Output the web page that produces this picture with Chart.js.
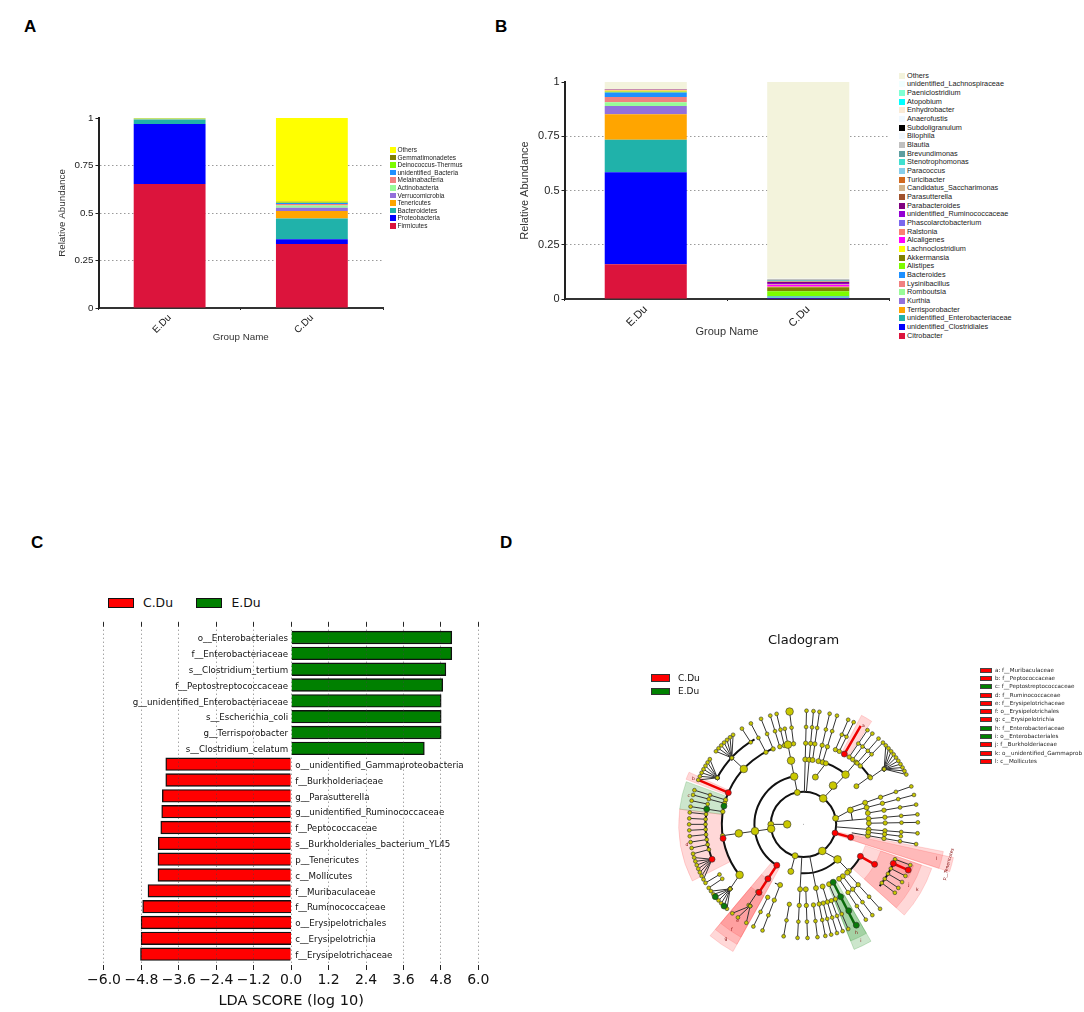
<!DOCTYPE html>
<html>
<head>
<meta charset="utf-8">
<title>Gut microbiota composition</title>
<script src="https://cdn.jsdelivr.net/npm/chart.js@4"></script>
<style>
  html, body { margin: 0; padding: 0; background: #fff; }
  body { position: relative; width: 1084px; height: 1012px; overflow: hidden; font-family: "Liberation Sans", sans-serif; }
  canvas { position: absolute; }
  .tag { position: absolute; font: bold 17px "Liberation Sans", sans-serif; color: #000; line-height: 17px; }
  .legend { position: absolute; color: #222; white-space: nowrap; }
  .legend div { position: absolute; left: 0; white-space: nowrap; }
  .legend i { position: absolute; left: 0; display: block; box-sizing: border-box; }
  .legend span { position: absolute; top: 0; }
</style>
</head>
<body>
<div class="tag" style="left:24px;top:18px">A</div>
<div class="tag" style="left:495px;top:18px">B</div>
<div class="tag" style="left:31px;top:534px">C</div>
<div class="tag" style="left:500px;top:534px">D</div>

<canvas id="chartA" width="400" height="250" style="left:0;top:100px"></canvas>
<canvas id="chartB" width="415" height="290" style="left:480px;top:60px"></canvas>
<canvas id="chartC" width="420" height="402" style="left:80px;top:610px"></canvas>
<canvas id="chartD" width="444" height="340" style="left:640px;top:630px"></canvas>
<div id="cladoTitle" style="position:absolute;left:768px;top:632px;font:13px 'DejaVu Sans';color:#111">Cladogram</div>

<div id="legendA" class="legend"></div>
<div id="legendB" class="legend"></div>
<div id="legendC" class="legend"></div>
<div id="legendD" class="legend"></div>
<div id="legendD2" class="legend"></div>

<script>
const groups = ["E.Du", "C.Du"];
const abundanceTicks = [0, 0.25, 0.5, 0.75, 1];

// panel A, phylum level, bottom of the stack first
const phylumNames = ["Firmicutes", "Proteobacteria", "Bacteroidetes", "Tenericutes", "Verrucomicrobia", "Actinobacteria", "Melainabacteria", "unidentified_Bacteria", "Deinococcus-Thermus", "Gemmatimonadetes", "Others"];
const phylumColors = ["#DC143C", "#0000FF", "#20B2AA", "#FFA500", "#9370DB", "#98FB98", "#F08080", "#1E90FF", "#7CFC00", "#808000", "#FFFF00"];
const phylumEDu = [0.652, 0.316, 0.024, 0.001, 0.001, 0.001, 0.000, 0.001, 0.000, 0.000, 0.004];
const phylumCDu = [0.337, 0.025, 0.109, 0.039, 0.017, 0.013, 0.008, 0.005, 0.002, 0.004, 0.441];

// panel B, genus level, bottom of the stack first
const genusNames = ["Citrobacter", "unidentified_Clostridiales", "unidentified_Enterobacteriaceae", "Terrisporobacter", "Kurthia", "Romboutsia", "Lysinibacillus", "Bacteroides", "Alistipes", "Akkermansia", "Lachnoclostridium", "Alcaligenes", "Ralstonia", "Phascolarctobacterium", "unidentified_Ruminococcaceae", "Parabacteroides", "Parasutterella", "Candidatus_Saccharimonas", "Turicibacter", "Paracoccus", "Stenotrophomonas", "Brevundimonas", "Blautia", "Bilophila", "Subdoligranulum", "Anaerofustis", "Enhydrobacter", "Atopobium", "Paeniclostridium", "unidentified_Lachnospiraceae", "Others"];
const genusColors = ["#DC143C", "#0000FF", "#20B2AA", "#FFA500", "#9370DB", "#98FB98", "#F08080", "#1E90FF", "#7CFC00", "#808000", "#FFFF00", "#FF00FF", "#FA8072", "#7B68EE", "#9400D3", "#800080", "#A0522D", "#D2B48C", "#D2691E", "#87CEEB", "#40E0D0", "#5F9EA0", "#C0C0C0", "#F0F8FF", "#000000", "#F0F8FF", "#FAEBD7", "#00FFFF", "#7FFFD4", "#F0FFFF", "#F3F3DC"];
const genusEDu = [0.160, 0.424, 0.150, 0.117, 0.038, 0.018, 0.024, 0.021, 0.003, 0.001, 0.005, 0.001, 0.002, 0.001, 0.001, 0.001, 0.001, 0, 0, 0, 0, 0, 0, 0, 0, 0, 0, 0, 0, 0, 0.032];
const genusCDu = [0.001, 0.004, 0.002, 0, 0, 0.001, 0, 0.003, 0.025, 0.018, 0.002, 0.008, 0.003, 0.001, 0.006, 0.004, 0.001, 0.002, 0.001, 0.001, 0.001, 0.004, 0.004, 0.001, 0, 0, 0, 0, 0, 0, 0.907];

// panel C, LDA scores
const eDuTaxa = ["o__Enterobacteriales", "f__Enterobacteriaceae", "s__Clostridium_tertium", "f__Peptostreptococcaceae", "g__unidentified_Enterobacteriaceae", "s__Escherichia_coli", "g__Terrisporobacter", "s__Clostridium_celatum"];
const eDuScores = [5.15, 5.15, 4.96, 4.86, 4.81, 4.81, 4.81, 4.27];
const cDuTaxa = ["o__unidentified_Gammaproteobacteria", "f__Burkholderiaceae", "g__Parasutterella", "g__unidentified_Ruminococcaceae", "f__Peptococcaceae", "s__Burkholderiales_bacterium_YL45", "p__Tenericutes", "c__Mollicutes", "f__Muribaculaceae", "f__Ruminococcaceae", "o__Erysipelotrichales", "c__Erysipelotrichia", "f__Erysipelotrichaceae"];
const cDuScores = [-4.02, -4.02, -4.13, -4.15, -4.18, -4.26, -4.27, -4.27, -4.59, -4.76, -4.81, -4.81, -4.83];
const ldaTicks = [-6, -4.8, -3.6, -2.4, -1.2, 0, 1.2, 2.4, 3.6, 4.8, 6];

// panel D, cladogram in polar form: degrees clockwise from north, radius in tree levels of 50
const cladoCenter = [487, 585];
// [angle, from radius, to radius, optional end angle]
const branches = [
  [-90, 100, 50], [-98, 100, 250], [-11, 100, 150], [-11, 150, 300], [-7, 250, 350],
  [1.5, 100, 350], [5, 100, 350], [8, 200, 350], [13.2, 200, 350], [17, 200, 350], [14, 150, 200, 20],
  [37, 100, 200, 40], [40, 200, 250], [54, 200, 250], [23, 250, 350], [26, 250, 350], [34, 250, 350], [37, 250, 350], [41, 250, 350], [44, 250, 350], [55, 250, 300],
  [55.4, 300, 350, 46], [55.4, 300, 350, 48], [55.4, 300, 350, 50], [55.4, 300, 350, 52], [55.4, 300, 350, 54], [55.4, 300, 350, 56], [55.4, 300, 350, 58], [55.4, 300, 350, 60], [55.4, 300, 350, 62], [55.4, 300, 350, 64],
  [79, 100, 150, 73], [70.5, 150, 350], [75, 150, 350], [80, 200, 350], [85, 100, 350], [89, 200, 350], [94.5, 100, 350], [100, 150, 350], [97, 200, 300],
  [145, 100, 150, 136], [136, 150, 200], [138, 200, 350], [143, 200, 350], [147, 200, 350], [157, 200, 350], [160, 250, 350], [163, 200, 350], [166, 250, 350], [169, 100, 350], [173, 250, 350], [178, 200, 350],
  [-177, 100, 350], [-170, 250, 350], [-165, 100, 150], [-159, 200, 350], [-154, 250, 350],
  [-146, 250, 300], [-147, 300, 350, -150], [-147, 300, 350, -145], [-147, 300, 350, -141.5],
  [-128.5, 250, 300, -131.5], [-131.5, 300, 350, -126], [-131.5, 300, 350, -128], [-131.5, 300, 350, -130], [-131.5, 300, 350, -132], [-131.5, 300, 350, -134], [-131.5, 300, 350, -136], [-131.5, 300, 350, -138],
  [-121, 300, 350], [-124, 300, 350],
  [-111, 300, 350, -107], [-111, 300, 350, -109], [-111, 300, 350, -111], [-111, 300, 350, -113], [-111, 300, 350, -115], [-111, 300, 350, -117], [-111, 300, 350, -119],
  [-84, 300, 350], [-87, 300, 350], [-90, 300, 350], [-93, 300, 350], [-96, 300, 350], [-99, 300, 350], [-102, 300, 350], [-105, 300, 350],
  [-72.5, 250, 350], [-75, 250, 350], [-78, 300, 350], [-81, 250, 350],
  [-61.5, 300, 350, -55], [-61.5, 300, 350, -57], [-61.5, 300, 350, -59], [-61.5, 300, 350, -61], [-61.5, 300, 350, -63], [-61.5, 300, 350, -65], [-61.5, 300, 350, -67],
  [-47, 250, 300], [-47, 300, 350, -38], [-47, 300, 350, -40], [-47, 300, 350, -42], [-47, 300, 350, -44], [-47, 300, 350, -46], [-47, 300, 350, -48], [-47, 300, 350, -50],
  [-32.6, 300, 350], [-27.4, 250, 350], [-21.8, 250, 350], [-16.9, 250, 350], [-13.6, 250, 350],
  [117, 300, 350], [120.5, 300, 350], [124, 300, 350], [127, 300, 350], [111, 300, 350]
];
const redBranches = [[105.5, 100, 150], [119.5, 200, 250], [113.7, 300, 350], [-147, 150, 250], [30, 250, 350], [-67, 250, 350]];
const greenBranches = [[153, 200, 350]];
const redNodes = [[105.5, 100], [105.5, 150], [119.5, 200], [119.5, 250], [113.7, 300], [113.7, 350], [30, 250], [-67, 250], [-100, 250], [-111, 300], [-147, 150], [-147, 200], [-147, 250]];
const greenNodes = [[153, 200], [153, 250], [152.5, 300], [152.5, 350], [-77, 250], [-81, 300], [-136, 350], [-129.5, 350]];
const largeNodes = [[-90, 50], [-98, 100], [-98, 150], [-98, 200], [-11, 150], [-11, 200], [-11, 250], [-7, 350], [40, 200], [37, 150], [37, 100], [145, 100], [136, 150], [-128.5, 250], [-47, 250]];
// [from angle, to angle, radius]
const thickArcs = [[0, 360, 100], [-147, -11, 150], [14, 40, 200], [40, 54, 250], [136, 183, 150], [119.5, 139, 200], [-128.5, -23, 250], [-111, -81, 300], [-62, -30, 300], [111, 129, 300]];
const thinArcs = [[70, 85, 150], [73, 80, 200], [85, 100, 200], [97, 100, 250], [23, 26, 300], [34, 44, 300], [157, 163, 250], [138, 147, 250], [-159, -154, 200]];
// [from angle, to angle, inner radius, outer radius, fill]
const wedges = [
  [28, 33.5, 250, 378, "r"], [-69, -65.5, 250, 385, "r"], [-83, -70, 250, 382, "g"], [-117, -83, 250, 382, "r"],
  [-151, -140, 150, 445, "r"], [-151, -140, 200, 420, "r"], [-151, -140, 250, 395, "r"],
  [150, 158, 200, 413, "g"], [150, 158, 250, 385, "g"],
  [109, 132, 200, 415, "r"], [109, 132, 250, 382, "r"], [110.5, 117, 300, 360, "r"],
  [101, 108, 150, 436, "r"], [102.5, 108, 100, 470, "r"]
];
const wedgeLetters = [["a", 31, 355], ["b", -67.5, 365], ["c", -76, 362], ["d", -100, 362], ["e", -146, 360], ["f", -146, 392], ["g", -146, 425], ["h", 154, 370], ["i", 154, 400], ["j", 120, 372], ["k", 120, 402], ["l", 104.5, 420]];
const cladoLegendLeft = [["C.Du", "#ff0000"], ["E.Du", "#008000"]];
const cladoLegendRight = [
  ["a: f__Muribaculaceae", "r"], ["b: f__Peptococcaceae", "r"], ["c: f__Peptostreptococcaceae", "g"], ["d: f__Ruminococcaceae", "r"],
  ["e: f__Erysipelotrichaceae", "r"], ["f: o__Erysipelotrichales", "r"], ["g: c__Erysipelotrichia", "r"], ["h: f__Enterobacteriaceae", "g"],
  ["i: o__Enterobacteriales", "g"], ["j: f__Burkholderiaceae", "r"], ["k: o__unidentified_Gammaprob", "r"], ["l: c__Mollicutes", "r"]
];

function stackDatasets(names, colors, first, second) {
  return names.map((name, i) => ({ label: name, data: [first[i], second[i]], backgroundColor: colors[i], borderWidth: 0 }));
}

// writes the series names of a chart as a html list, the same way as the chart.js html legend sample
function writeLegend(id, left, top, rowHeight, boxSize, fontSize, names, colors) {
  const box = document.getElementById(id);
  box.style.left = left + "px";
  box.style.top = top + "px";
  box.style.font = fontSize + "px 'Liberation Sans', sans-serif";
  names.forEach((name, i) => {
    const row = document.createElement("div");
    row.style.top = (i * rowHeight) + "px";
    row.innerHTML = `<i style="width:${boxSize}px;height:${boxSize}px;top:0;background:${colors[i]}"></i>` +
      `<span style="left:${boxSize + 2}px;line-height:${boxSize}px">${name}</span>`;
    box.appendChild(row);
  });
}

function stackOptions(cfg) {
  return {
    responsive: false,
    animation: false,
    layout: { padding: cfg.padding },
    plugins: { legend: { display: false }, tooltip: { enabled: false } },
    datasets: { bar: { barPercentage: 0.505, categoryPercentage: 1 } },
    scales: {
      x: {
        stacked: true,
        grid: { offset: true, drawOnChartArea: false, tickLength: 2, tickColor: "#222" },
        border: { color: "#333", width: 2 },
        ticks: { minRotation: 45, maxRotation: 45, color: "#222", padding: 2, font: { family: "Liberation Sans", size: cfg.font } },
        title: { display: true, text: "Group Name", color: "#333", padding: 0, font: { family: "Liberation Sans", size: cfg.font } },
        afterFit: s => { s.height = cfg.xHeight; }
      },
      y: {
        stacked: true,
        min: 0,
        max: 1,
        afterBuildTicks: s => { s.ticks = abundanceTicks.map(v => ({ value: v })); },
        grid: {
          color: c => (c.tick.value === 0 || c.tick.value === 1) ? "transparent" : "#9a9a9a",
          tickColor: "#222",
          tickLength: 3
        },
        border: { color: "#222", width: 2, dash: [1.5, 2.5] },
        ticks: { color: "#222", padding: 2, callback: v => String(v), font: { family: "Liberation Sans", size: cfg.font } },
        title: { display: true, text: "Relative Abundance", color: "#333", padding: 0, font: { family: "Liberation Sans", size: cfg.font } },
        afterFit: s => { s.width = cfg.yWidth; }
      }
    }
  };
}

new Chart(document.getElementById("chartA"), {
  type: "bar",
  data: { labels: groups, datasets: stackDatasets(phylumNames, phylumColors, phylumEDu, phylumCDu) },
  options: stackOptions({ padding: { left: 56, top: 18, right: 17, bottom: 7 }, font: 9.8, xHeight: 35, yWidth: 42.5 })
});

new Chart(document.getElementById("chartB"), {
  type: "bar",
  data: { labels: groups, datasets: stackDatasets(genusNames, genusColors, genusEDu, genusCDu) },
  options: stackOptions({ padding: { left: 38.5, top: 22, right: 5.5, bottom: 11.5 }, font: 11, xHeight: 39.5, yWidth: 46 })
});

writeLegend("legendA", 390, 147, 7.6, 5.5, 6.5, phylumNames.slice().reverse(), phylumColors.slice().reverse());
writeLegend("legendB", 899, 72.5, 8.67, 6, 7.3, genusNames.slice().reverse(), genusColors.slice().reverse());

// taxon names beside the zero line
const taxonLabels = {
  id: "taxonLabels",
  afterDatasetsDraw(chart) {
    const { ctx, scales } = chart;
    ctx.save();
    ctx.font = "8.7px 'DejaVu Sans'";
    ctx.fillStyle = "#111";
    ctx.textBaseline = "middle";
    const zero = scales.x.getPixelForValue(0);
    ctx.textAlign = "right";
    eDuTaxa.forEach((name, i) => ctx.fillText(name, zero - 3, scales.y.getPixelForValue(i) + 1.5));
    ctx.textAlign = "left";
    cDuTaxa.forEach((name, i) => ctx.fillText(name, zero + 4, scales.y.getPixelForValue(i + eDuTaxa.length) + 1.5));
    ctx.restore();
  }
};

const ldaAxisTicks = s => { s.ticks = ldaTicks.map(v => ({ value: v })); };

new Chart(document.getElementById("chartC"), {
  type: "bar",
  data: {
    datasets: [
      { label: "C.Du", data: cDuScores.map((v, i) => ({ x: v, y: i + eDuScores.length })), backgroundColor: "#ff0000", borderColor: "#111", borderWidth: 1.4, grouped: false, barThickness: 12.7 },
      { label: "E.Du", data: eDuScores.map((v, i) => ({ x: v, y: i })), backgroundColor: "#008000", borderColor: "#111", borderWidth: 1.4, grouped: false, barThickness: 12.7 }
    ]
  },
  plugins: [taxonLabels],
  options: {
    indexAxis: "y",
    responsive: false,
    animation: false,
    layout: { padding: { left: 23.7, right: 21.7, top: 11.7, bottom: 0 } },
    plugins: { legend: { display: false }, tooltip: { enabled: false } },
    scales: {
      y: { type: "linear", offset: false, reverse: true, min: -1, max: 21, display: false },
      x: {
        min: -6,
        max: 6,
        afterBuildTicks: ldaAxisTicks,
        grid: { color: "rgba(70,70,70,0.7)", z: 1, tickLength: -5, tickColor: "#222" },
        border: { display: false, dash: [1, 3] },
        ticks: { color: "#111", padding: 7, maxRotation: 0, autoSkip: false, callback: v => v.toFixed(1).replace("-", "\u2212"), font: { family: "DejaVu Sans", size: 14 } },
        title: { display: true, text: "LDA SCORE (log 10)", color: "#111", padding: 2, font: { family: "DejaVu Sans", size: 14.6 } },
        afterFit: s => { s.height = 42; }
      },
      xTop: {
        position: "top",
        min: -6,
        max: 6,
        afterBuildTicks: ldaAxisTicks,
        grid: { drawOnChartArea: false, tickLength: -5, tickColor: "#222" },
        border: { display: false },
        ticks: { display: false },
        afterFit: s => { s.height = 0; }
      }
    }
  }
});

// legend swatches of panel C
[["C.Du", 108.3, "#ff0000", 143], ["E.Du", 196, "#008000", 231.5]].forEach(([name, x, color, textX]) => {
  const box = document.getElementById("legendC");
  box.style.left = "0"; box.style.top = "0";
  box.style.font = "12.4px 'DejaVu Sans'";
  box.insertAdjacentHTML("beforeend",
    `<i style="left:${x}px;top:598px;width:26px;height:9.5px;background:${color};border:1px solid #111"></i>` +
    `<span style="left:${textX}px;top:595px;color:#111">${name}</span>`);
});

// legends of panel D
function writeCladoLegends() {
  const left = document.getElementById("legendD");
  left.style.left = "0"; left.style.top = "0";
  left.style.font = "9px 'DejaVu Sans'";
  cladoLegendLeft.forEach(([name, color], i) => {
    const y = 674 + i * 13.6;
    left.insertAdjacentHTML("beforeend",
      `<i style="left:651px;top:${y}px;width:19px;height:7.5px;background:${color};border:1px solid #333"></i>` +
      `<span style="left:678px;top:${y - 1.5}px;color:#111">${name}</span>`);
  });
  const right = document.getElementById("legendD2");
  right.style.left = "0"; right.style.top = "0";
  right.style.font = "5.6px 'DejaVu Sans'";
  cladoLegendRight.forEach(([name, code], i) => {
    const y = 667.6 + i * 8.3;
    const color = code === "r" ? "#ff0000" : "#008000";
    right.insertAdjacentHTML("beforeend",
      `<i style="left:980px;top:${y}px;width:11.5px;height:5px;background:${color};border:1px solid #444"></i>` +
      `<span style="left:995px;top:${y - 1}px;color:#222">${name}</span>`);
  });
}
writeCladoLegends();

function polar(angle, r) {
  const rad = angle * Math.PI / 180;
  return { x: cladoCenter[0] + r * Math.sin(rad), y: cladoCenter[1] - r * Math.cos(rad), r };
}

function branchPath(list) {
  const pts = [];
  list.forEach(([a, r1, r2, a2]) => {
    pts.push(polar(a, r1), polar(a2 === undefined ? a : a2, r2), { x: NaN, y: NaN });
  });
  return pts;
}

// a node at each level of a branch, leaving out the inner levels shared with the rings
function branchNodes(list) {
  const pts = [];
  list.forEach(([a, r1, r2, a2]) => {
    const lo = Math.min(r1, r2), hi = Math.max(r1, r2);
    for (let r = lo; r <= hi; r += 50) {
      if (r <= 150 && hi > 200) continue;
      const t = (r - r1) / (r2 - r1);
      pts.push(polar(a + ((a2 === undefined ? a : a2) - a) * t, r));
    }
  });
  return pts;
}

const nodeRadius = c => {
  const r = c.raw.r;
  if (r <= 150) return 3;
  if (r <= 200) return 2.5;
  if (r <= 250) return 2.2;
  return 1.9;
};

// shaded clades, rings and letters sit behind the branches, placed through the chart scales
const cladoBackdrop = {
  id: "cladoBackdrop",
  beforeDatasetsDraw(chart) {
    const { ctx, scales } = chart;
    const cx = scales.x.getPixelForValue(cladoCenter[0]);
    const cy = scales.y.getPixelForValue(cladoCenter[1]);
    const px = r => scales.x.getPixelForValue(cladoCenter[0] + r) - cx;
    const toRad = a => (a - 90) * Math.PI / 180;
    ctx.save();
    wedges.forEach(([a1, a2, r1, r2, code]) => {
      ctx.beginPath();
      ctx.arc(cx, cy, px(r2), toRad(a1), toRad(a2));
      ctx.arc(cx, cy, px(r1), toRad(a2), toRad(a1), true);
      ctx.closePath();
      ctx.fillStyle = code === "r" ? "rgba(255,60,60,0.2)" : "rgba(0,128,0,0.2)";
      ctx.strokeStyle = code === "r" ? "rgba(255,60,60,0.3)" : "rgba(0,128,0,0.3)";
      ctx.lineWidth = 0.6;
      ctx.fill();
      ctx.stroke();
    });
    ctx.strokeStyle = "#111";
    ctx.lineWidth = 2;
    thickArcs.forEach(([a1, a2, r]) => {
      ctx.beginPath();
      ctx.arc(cx, cy, px(r), toRad(a1), toRad(a2));
      ctx.stroke();
    });
    ctx.lineWidth = 1;
    thinArcs.forEach(([a1, a2, r]) => {
      ctx.beginPath();
      ctx.arc(cx, cy, px(r), toRad(a1), toRad(a2));
      ctx.stroke();
    });
    ctx.fillStyle = "#aaa";
    ctx.fillRect(cx - 0.5, cy - 0.5, 1, 1);
    ctx.fillStyle = "#800000";
    ctx.font = "4.5px 'DejaVu Sans'";
    ctx.textAlign = "center";
    ctx.textBaseline = "middle";
    wedgeLetters.forEach(([letter, a, r]) => {
      const p = polar(a, r);
      ctx.fillText(letter, scales.x.getPixelForValue(p.x), scales.y.getPixelForValue(p.y));
    });
    const tag = polar(105.5, 460);
    ctx.translate(scales.x.getPixelForValue(tag.x), scales.y.getPixelForValue(tag.y));
    ctx.rotate(-75 * Math.PI / 180);
    ctx.fillText("p__Tenericutes", 0, 0);
    ctx.restore();
  }
};

const nodeStyle = { showLine: false, borderColor: "#333", borderWidth: 0.6, pointRadius: nodeRadius, pointHoverRadius: nodeRadius };
const largeStyle = { showLine: false, borderColor: "#333", borderWidth: 0.6, pointRadius: 3.8, pointHoverRadius: 3.8 };

new Chart(document.getElementById("chartD"), {
  type: "scatter",
  data: {
    datasets: [
      { label: "red nodes", data: redNodes.map(([a, r]) => polar(a, r)), backgroundColor: "#ff0000", ...largeStyle, pointRadius: 3 },
      { label: "green nodes", data: greenNodes.map(([a, r]) => polar(a, r)), backgroundColor: "#0a7a0a", ...largeStyle, pointRadius: 3 },
      { label: "large nodes", data: largeNodes.map(([a, r]) => polar(a, r)), backgroundColor: "#c9c800", ...largeStyle },
      { label: "nodes", data: branchNodes(branches), backgroundColor: "#c9c800", ...nodeStyle },
      { label: "red branches", data: branchPath(redBranches), showLine: true, borderColor: "#ee0000", borderWidth: 2.5, pointRadius: 0, spanGaps: false },
      { label: "green branches", data: branchPath(greenBranches), showLine: true, borderColor: "#0a6a0a", borderWidth: 2.5, pointRadius: 0, spanGaps: false },
      { label: "branches", data: branchPath(branches), showLine: true, borderColor: "#333", borderWidth: 1, pointRadius: 0, spanGaps: false }
    ]
  },
  plugins: [cladoBackdrop],
  options: {
    responsive: false,
    animation: false,
    clip: false,
    layout: { padding: 0 },
    plugins: { legend: { display: false }, tooltip: { enabled: false } },
    scales: {
      x: { min: 0, max: 1332, display: false },
      y: { min: 0, max: 1020, reverse: true, display: false }
    }
  }
});
</script>
</body>
</html>
